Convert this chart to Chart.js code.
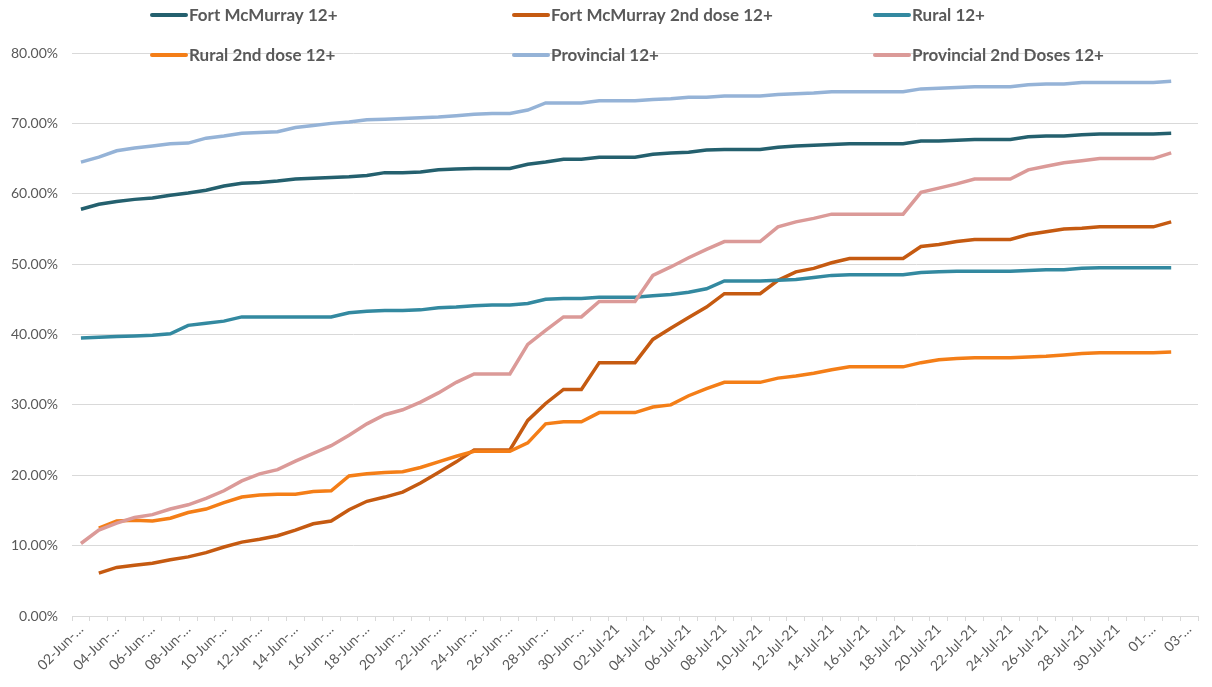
<!DOCTYPE html>
<html>
<head>
<meta charset="utf-8">
<script src="https://cdn.jsdelivr.net/npm/chart.js@4"></script>
<style>
  html, body { margin: 0; padding: 0; background: #fff; }
  #wrap { width: 1212px; height: 687px; }
</style>
</head>
<body>
<div id="wrap"><canvas id="lineChart"></canvas></div>
<script>
'use strict';

// categories: one per day, 02-Jun-21 to 03-Aug-21
var dates = [];
var tickLabels = [];
var d;
for (d = 2; d <= 30; d++) { dates.push(('0' + d).slice(-2) + '-Jun-21'); tickLabels.push(('0' + d).slice(-2) + '-Jun-\u2026'); }
for (d = 1; d <= 31; d++) { dates.push(('0' + d).slice(-2) + '-Jul-21'); tickLabels.push(('0' + d).slice(-2) + '-Jul-21'); }
for (d = 1; d <= 3; d++) { dates.push(('0' + d).slice(-2) + '-Aug-21'); tickLabels.push(('0' + d).slice(-2) + '-\u2026'); }

// percent of population 12+
var fortMcMurray = [57.8, 58.5, 58.9, 59.2, 59.4, 59.8, 60.1, 60.5, 61.1, 61.5,
  61.6, 61.8, 62.1, 62.2, 62.3, 62.4, 62.6, 63.0, 63.0, 63.1,
  63.4, 63.5, 63.6, 63.6, 63.6, 64.2, 64.5, 64.9, 64.9, 65.2,
  65.2, 65.2, 65.6, 65.8, 65.9, 66.2, 66.3, 66.3, 66.3, 66.6,
  66.8, 66.9, 67.0, 67.1, 67.1, 67.1, 67.1, 67.5, 67.5, 67.6,
  67.7, 67.7, 67.7, 68.1, 68.2, 68.2, 68.4, 68.5, 68.5, 68.5,
  68.5, 68.6, null];
var fortMcMurray2nd = [null, 6.1, 6.9, 7.2, 7.5, 8.0, 8.4, 9.0, 9.8, 10.5,
  10.9, 11.4, 12.2, 13.1, 13.5, 15.1, 16.3, 16.9, 17.6, 18.9,
  20.4, 21.9, 23.6, 23.6, 23.6, 27.8, 30.2, 32.2, 32.2, 36.0,
  36.0, 36.0, 39.3, 40.9, 42.4, 43.9, 45.8, 45.8, 45.8, 47.7,
  48.9, 49.4, 50.2, 50.8, 50.8, 50.8, 50.8, 52.5, 52.8, 53.2,
  53.5, 53.5, 53.5, 54.2, 54.6, 55.0, 55.1, 55.3, 55.3, 55.3,
  55.3, 56.0, null];
var rural = [39.5, 39.6, 39.7, 39.8, 39.9, 40.1, 41.3, 41.6, 41.9, 42.5,
  42.5, 42.5, 42.5, 42.5, 42.5, 43.1, 43.3, 43.4, 43.4, 43.5,
  43.8, 43.9, 44.1, 44.2, 44.2, 44.4, 45.0, 45.1, 45.1, 45.3,
  45.3, 45.3, 45.5, 45.7, 46.0, 46.5, 47.6, 47.6, 47.6, 47.7,
  47.8, 48.1, 48.4, 48.5, 48.5, 48.5, 48.5, 48.8, 48.9, 49.0,
  49.0, 49.0, 49.0, 49.1, 49.2, 49.2, 49.4, 49.5, 49.5, 49.5,
  49.5, 49.5, null];
var rural2nd = [null, 12.5, 13.5, 13.6, 13.5, 13.9, 14.7, 15.2, 16.1, 16.9,
  17.2, 17.3, 17.3, 17.7, 17.8, 19.9, 20.2, 20.4, 20.5, 21.1,
  21.9, 22.7, 23.4, 23.4, 23.4, 24.6, 27.3, 27.6, 27.6, 28.9,
  28.9, 28.9, 29.7, 30.0, 31.3, 32.3, 33.2, 33.2, 33.2, 33.8,
  34.1, 34.5, 35.0, 35.4, 35.4, 35.4, 35.4, 36.0, 36.4, 36.6,
  36.7, 36.7, 36.7, 36.8, 36.9, 37.1, 37.3, 37.4, 37.4, 37.4,
  37.4, 37.5, null];
var provincial = [64.5, 65.2, 66.1, 66.5, 66.8, 67.1, 67.2, 67.9, 68.2, 68.6,
  68.7, 68.8, 69.4, 69.7, 70.0, 70.2, 70.5, 70.6, 70.7, 70.8,
  70.9, 71.1, 71.3, 71.4, 71.4, 71.9, 72.9, 72.9, 72.9, 73.2,
  73.2, 73.2, 73.4, 73.5, 73.7, 73.7, 73.9, 73.9, 73.9, 74.1,
  74.2, 74.3, 74.5, 74.5, 74.5, 74.5, 74.5, 74.9, 75.0, 75.1,
  75.2, 75.2, 75.2, 75.5, 75.6, 75.6, 75.8, 75.8, 75.8, 75.8,
  75.8, 76.0, null];
var provincial2nd = [10.3, 12.2, 13.2, 14.0, 14.4, 15.2, 15.8, 16.7, 17.8, 19.2,
  20.2, 20.8, 22.0, 23.1, 24.2, 25.7, 27.3, 28.6, 29.3, 30.4,
  31.7, 33.2, 34.4, 34.4, 34.4, 38.6, 40.6, 42.5, 42.5, 44.7,
  44.7, 44.7, 48.4, 49.6, 50.9, 52.1, 53.2, 53.2, 53.2, 55.3,
  56.0, 56.5, 57.1, 57.1, 57.1, 57.1, 57.1, 60.2, 60.8, 61.4,
  62.1, 62.1, 62.1, 63.4, 63.9, 64.4, 64.7, 65.0, 65.0, 65.0,
  65.0, 65.8, null];

var seriesNames = ['Fort McMurray 12+', 'Fort McMurray 2nd dose 12+', 'Rural 12+',
  'Rural 2nd dose 12+', 'Provincial 12+', 'Provincial 2nd Doses 12+'];
var seriesColors = ['#24606E', '#C55A11', '#3389A0', '#F47E17', '#95B3D7', '#DB9A98'];
var seriesData = [fortMcMurray, fortMcMurray2nd, rural, rural2nd, provincial, provincial2nd];

var FONT = 'Lato, "Open Sans", sans-serif';
var GREY = '#595959';

// excel style legend, 3 columns x 2 rows, sitting over the top of the plot
var legendPlugin = {
  id: 'excelLegend',
  afterDraw: function (chart) {
    var ctx = chart.ctx;
    var cols = [150, 512, 873];
    var rows = [15, 55];
    ctx.save();
    chart.data.datasets.forEach(function (ds, i) {
      var x = cols[i % 3];
      var y = rows[Math.floor(i / 3)];
      ctx.strokeStyle = ds.borderColor;
      ctx.lineWidth = 4;
      ctx.lineCap = 'round';
      ctx.beginPath();
      ctx.moveTo(x + 2, y);
      ctx.lineTo(x + 36, y);
      ctx.stroke();
      ctx.fillStyle = GREY;
      ctx.font = 'bold 17px ' + FONT;
      ctx.textBaseline = 'middle';
      ctx.textAlign = 'left';
      ctx.fillText(ds.label, x + 39, y + 1);
    });
    ctx.restore();
  }
};

var datasets = seriesData.map(function (vals, i) {
  return {
    label: seriesNames[i],
    data: vals,
    borderColor: seriesColors[i],
    backgroundColor: seriesColors[i],
    borderWidth: 3.5,
    pointRadius: 0,
    tension: 0,
    spanGaps: false,
    order: -i
  };
});

var ctx = document.getElementById('lineChart').getContext('2d');
var chart = new Chart(ctx, {
  type: 'line',
  data: { labels: dates, datasets: datasets },
  plugins: [legendPlugin],
  options: {
    responsive: true,
    maintainAspectRatio: false,
    animation: false,
    layout: { padding: { top: 53, right: 14, left: 0, bottom: 0 } },
    plugins: {
      legend: { display: false },
      tooltip: { enabled: false }
    },
    scales: {
      x: {
        type: 'category',
        offset: true,
        grid: {
          offset: true,
          drawOnChartArea: false,
          drawTicks: true,
          tickLength: 5,
          color: '#D9D9D9'
        },
        border: { color: '#D9D9D9', width: 1 },
        ticks: {
          autoSkip: false,
          maxRotation: 45,
          minRotation: 45,
          padding: 0,
          color: GREY,
          font: { family: FONT, size: 14 },
          callback: function (value, index) {
            return index % 2 === 0 ? tickLabels[index] : '';
          }
        },
        afterFit: function (scale) { scale.height = 71; }
      },
      y: {
        min: 0,
        max: 80,
        grid: { color: '#D9D9D9', drawTicks: false, lineWidth: 1 },
        border: { display: false },
        ticks: {
          stepSize: 10,
          padding: 14,
          color: GREY,
          font: { family: FONT, size: 14 },
          callback: function (v) { return v.toFixed(2) + '%'; }
        },
        afterFit: function (scale) { scale.width = 72; }
      }
    }
  }
});
</script>
</body>
</html>
